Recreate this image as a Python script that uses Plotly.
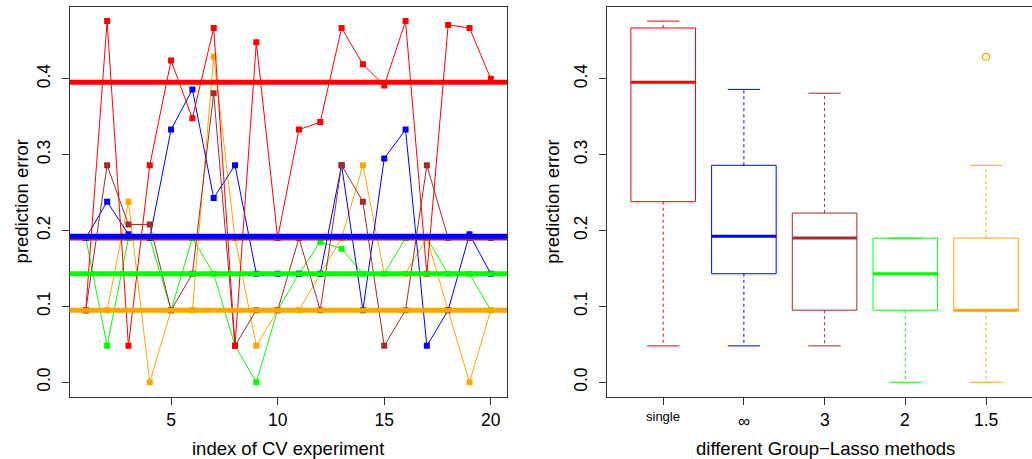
import math
import numpy as np
import plotly.graph_objects as go

# ---------------- data ----------------
experiments = list(range(1, 21))
err_single = [0.095, 0.476, 0.048, 0.286, 0.424, 0.348, 0.467, 0.048, 0.448, 0.190,
              0.333, 0.343, 0.467, 0.419, 0.391, 0.476, 0.143, 0.471, 0.467, 0.400]
err_inf = [0.190, 0.238, 0.195, 0.190, 0.333, 0.386, 0.243, 0.286, 0.143, 0.143,
           0.143, 0.143, 0.286, 0.095, 0.295, 0.333, 0.048, 0.095, 0.195, 0.143]
err_3 = [0.095, 0.286, 0.208, 0.208, 0.095, 0.143, 0.381, 0.048, 0.095, 0.095,
         0.190, 0.095, 0.286, 0.238, 0.048, 0.095, 0.286, 0.190, 0.190, 0.190]
err_2 = [0.190, 0.048, 0.190, 0.190, 0.095, 0.190, 0.143, 0.048, 0.000, 0.095,
         0.143, 0.185, 0.176, 0.143, 0.143, 0.190, 0.190, 0.143, 0.143, 0.095]
err_15 = [0.095, 0.095, 0.238, 0.000, 0.095, 0.095, 0.429, 0.190, 0.048, 0.095,
          0.095, 0.143, 0.190, 0.286, 0.143, 0.143, 0.190, 0.095, 0.000, 0.095]
method_labels = ["single", "∞", "3", "2", "1.5"]
x_ticks_left = [5, 10, 15, 20]
y_ticks = [0.0, 0.1, 0.2, 0.3, 0.4]

# ---------------- styles ----------------
series = [err_single, err_inf, err_3, err_2, err_15]
colors = ["#FF0000", "#0000FF", "#A52A2A", "#00FF00", "#FFA500"]
FONT = "Liberation Sans, Arial, Helvetica, sans-serif"
W, H = 1032, 459
method_label_sizes = [13, 17, 17.5, 17.5, 17.5]
method_label_ypx = [416.5, 421, 419.5, 419.5, 419.5]


def px_x(p):
    return p / W


def px_y(p):
    return 1 - p / H


def fivenum(v):
    s = sorted(v)
    n = len(s)
    n4 = math.floor((n + 3) / 2) / 2
    d = [1, n4, (n + 1) / 2, n + 1 - n4, n]
    return [0.5 * (s[math.floor(di) - 1] + s[math.ceil(di) - 1]) for di in d]


fig = go.Figure()

# ---- left panel: series lines ----
draw_order = [3, 4, 1, 2, 0]
for k in draw_order:
    fig.add_trace(go.Scatter(
        x=experiments, y=series[k], mode="lines+markers",
        line=dict(color=colors[k], width=1),
        marker=dict(symbol="square", size=6, color=colors[k], line=dict(width=0)),
        xaxis="x", yaxis="y", showlegend=False, hoverinfo="skip"))

# thick median lines
for k in [0, 2, 3, 4, 1]:
    med = float(np.median(series[k]))
    fig.add_shape(type="line", xref="x domain", yref="y", x0=0, x1=1, y0=med, y1=med,
                  line=dict(color=colors[k], width=5), layer="above")

# ---- right panel: boxplots ----
bw = 0.4
for k, vals in enumerate(series):
    xpos = k + 1
    mn, q1, med, q3, mx = fivenum(vals)
    iqr = q3 - q1
    lo_lim, hi_lim = q1 - 1.5 * iqr - 1e-9, q3 + 1.5 * iqr + 1e-9
    inside = [v for v in vals if lo_lim <= v <= hi_lim]
    outs = [v for v in vals if v < lo_lim or v > hi_lim]
    wlo, whi = min(inside), max(inside)
    c = colors[k]
    common = dict(xaxis="x2", yaxis="y2", showlegend=False, hoverinfo="skip", mode="lines")
    # whiskers (dashed)
    fig.add_trace(go.Scatter(x=[xpos, xpos], y=[q3, whi], line=dict(color=c, width=1, dash="3px,3px"), **common))
    fig.add_trace(go.Scatter(x=[xpos, xpos], y=[q1, wlo], line=dict(color=c, width=1, dash="3px,3px"), **common))
    # staples
    fig.add_trace(go.Scatter(x=[xpos - bw / 2, xpos + bw / 2], y=[whi, whi], line=dict(color=c, width=1), **common))
    fig.add_trace(go.Scatter(x=[xpos - bw / 2, xpos + bw / 2], y=[wlo, wlo], line=dict(color=c, width=1), **common))
    # box
    fig.add_trace(go.Scatter(x=[xpos - bw, xpos + bw, xpos + bw, xpos - bw, xpos - bw],
                             y=[q1, q1, q3, q3, q1], line=dict(color=c, width=1), **common))
    # median
    fig.add_trace(go.Scatter(x=[xpos - bw, xpos + bw], y=[med, med], line=dict(color=c, width=3), **common))
    if outs:
        fig.add_trace(go.Scatter(x=[xpos] * len(outs), y=outs, mode="markers",
                                 marker=dict(symbol="circle-open", size=7, color=c, line=dict(width=1.2)),
                                 xaxis="x2", yaxis="y2", showlegend=False, hoverinfo="skip"))

# ---------------- layout ----------------
left_dom = [px_x(69.6), px_x(507)]
right_dom = [px_x(606.7), 1.0]
y_dom = [px_y(396.7), px_y(6.7)]

axis_common = dict(showgrid=False, zeroline=False, showline=True, linecolor="#333", linewidth=1,
                   ticks="outside", ticklen=7, tickcolor="#333", tickwidth=1,
                   tickfont=dict(family=FONT, size=17.5, color="black"))

y_range = [-0.019, 0.495]

fig.update_layout(
    width=W, height=H, margin=dict(l=0, r=0, t=0, b=0),
    paper_bgcolor="white", plot_bgcolor="white",
    xaxis=dict(domain=left_dom, range=[0.24, 20.76], tickvals=x_ticks_left, mirror=True,
               anchor="y", ticklabelstandoff=0, **axis_common),
    yaxis=dict(domain=y_dom, range=y_range, tickvals=y_ticks, tickformat=".1f", tickangle=-90,
               mirror=True, anchor="x", ticklabelstandoff=5, **axis_common),
    xaxis2=dict(domain=right_dom, range=[0.3, 5.57], tickvals=[1, 2, 3, 4, 5],
                showticklabels=False, mirror=True, anchor="y2", **axis_common),
    yaxis2=dict(domain=y_dom, range=y_range, tickvals=y_ticks, tickformat=".1f", tickangle=-90,
                mirror=False, anchor="x2", ticklabelstandoff=5, **axis_common),
)

# method tick labels on right x axis
for k, lab in enumerate(method_labels):
    fig.add_annotation(xref="x2", yref="paper", x=k + 1, y=px_y(method_label_ypx[k]),
                       text=lab, showarrow=False, xanchor="center", yanchor="middle",
                       font=dict(family=FONT, size=method_label_sizes[k], color="black"))

title_font = dict(family=FONT, size=18.5, color="black")
annots = [
    dict(text="index of CV experiment", x=px_x(288), y=px_y(448)),
    dict(text="different Group−Lasso methods", x=px_x(825), y=px_y(448)),
    dict(text="prediction error", x=px_x(21.7), y=px_y(201.7), textangle=-90),
    dict(text="prediction error", x=px_x(553), y=px_y(201.7), textangle=-90),
]
for a in annots:
    fig.add_annotation(xref="paper", yref="paper", xanchor="center", yanchor="middle",
                       showarrow=False, font=title_font, **a)

fig.write_html("out.html")
